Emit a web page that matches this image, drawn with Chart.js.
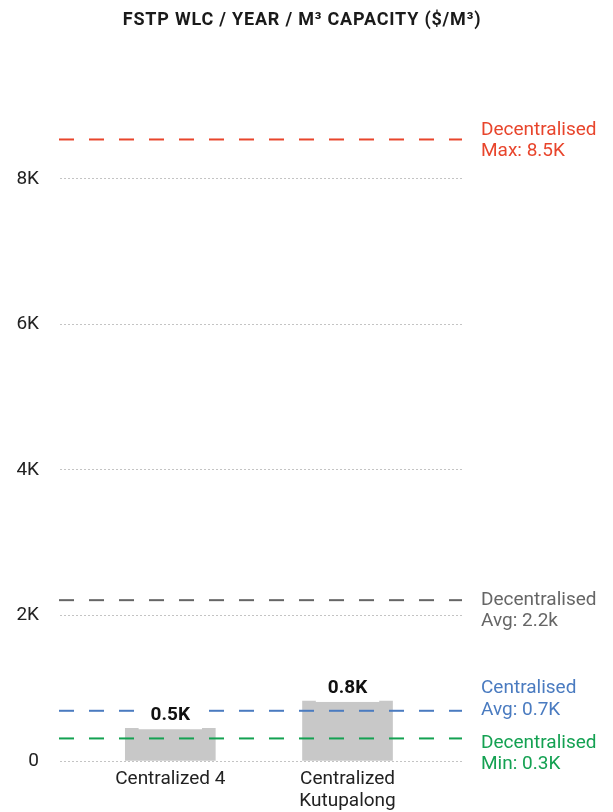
<!DOCTYPE html>
<html>
<head>
<meta charset="utf-8">
<script src="https://cdn.jsdelivr.net/npm/chart.js@4.4.1/dist/chart.umd.min.js"></script>
<style>
  html, body { margin: 0; padding: 0; background: #fff; }
</style>
</head>
<body>
<canvas id="wlcChart" width="613" height="812"></canvas>
<script>
// centralized plants (bars)
const categories = ['Centralized 4', 'Centralized Kutupalong'];
const wlcValues = [450, 825];

// decentralised / centralised reference levels (dashed lines)
const refNames = ['Decentralised Max', 'Decentralised Avg', 'Centralised Avg', 'Decentralised Min'];
const refValues = [8540, 2210, 690, 310];
const refUnits = ['K', 'k', 'K', 'K'];

const yTicks = [0, 2000, 4000, 6000, 8000];

// styling
const refColors = ['#e8452c', '#666666', '#4a7bc0', '#14a152'];
const refLabelShift = [1.5, 10.5, -11.5, 15.5];

const fmtK = (v, unit) => (v / 1000).toFixed(1) + unit;

const wrapLabel = (s) => s.length > 14 ? s.split(' ') : s;

const titlePlugin = {
  id: 'spacedTitle',
  afterDraw(chart) {
    const ctx = chart.ctx;
    ctx.save();
    ctx.font = 'bold 18px Roboto';
    ctx.letterSpacing = '0.8px';
    ctx.fillStyle = '#1a1a1a';
    ctx.textAlign = 'center';
    ctx.textBaseline = 'middle';
    ctx.fillText('FSTP WLC / YEAR / M\u00B3 CAPACITY ($/M\u00B3)', 302, 20);
    ctx.restore();
  }
};

const refLinesPlugin = {
  id: 'refLines',
  afterDatasetsDraw(chart) {
    const { ctx, chartArea: area, scales: { y } } = chart;
    ctx.save();
    refValues.forEach((v, i) => {
      const py = y.getPixelForValue(v);
      ctx.strokeStyle = refColors[i];
      ctx.lineWidth = 2;
      ctx.setLineDash([15, 15]);
      ctx.beginPath();
      ctx.moveTo(area.left - 1, py);
      ctx.lineTo(area.right, py);
      ctx.stroke();

      const words = refNames[i].split(' ');
      const cy = py + refLabelShift[i];
      ctx.setLineDash([]);
      ctx.fillStyle = refColors[i];
      ctx.font = '19px Roboto';
      ctx.textAlign = 'left';
      ctx.textBaseline = 'middle';
      ctx.fillText(words[0], area.right + 19, cy - 10.75);
      ctx.fillText(words[1] + ': ' + fmtK(v, refUnits[i]), area.right + 19, cy + 10.75);
    });
    ctx.restore();
  }
};

const barLabelsPlugin = {
  id: 'barLabels',
  afterDatasetsDraw(chart) {
    const ctx = chart.ctx;
    const meta = chart.getDatasetMeta(0);
    ctx.save();
    ctx.font = 'bold 19px Roboto';
    ctx.textAlign = 'center';
    ctx.textBaseline = 'middle';
    meta.data.forEach((bar, i) => {
      const text = fmtK(wlcValues[i], 'K');
      const w = ctx.measureText(text).width + 24;
      ctx.fillStyle = '#fff';
      ctx.fillRect(bar.x - w / 2, bar.y - 27, w, 28);
      ctx.fillStyle = '#111';
      ctx.fillText(text, bar.x, bar.y - 13);
    });
    ctx.restore();
  }
};

const data = {
  datasets: [{
    label: 'WLC',
    data: categories.map((c, i) => ({ x: i, y: wlcValues[i] })),
    backgroundColor: '#c8c8c8',
    barThickness: 90
  }]
};

const config = {
  type: 'bar',
  data: data,
  options: {
    responsive: false,
    animation: false,
    devicePixelRatio: 1,
    layout: { padding: { top: 106, right: 151, bottom: 0, left: 17 } },
    plugins: {
      legend: { display: false },
      tooltip: { enabled: false }
    },
    scales: {
      x: {
        type: 'linear',
        offset: false,
        min: -0.6225,
        max: 1.646,
        grid: { display: false, offset: false, drawTicks: false },
        border: { display: false },
        afterBuildTicks: (axis) => { axis.ticks = categories.map((c, i) => ({ value: i })); },
        afterFit: (axis) => { axis.paddingLeft = 0; axis.paddingRight = 0; axis.height = 51; },
        ticks: {
          autoSkip: false,
          maxRotation: 0,
          padding: 7,
          color: '#222',
          font: { family: 'Roboto', size: 19, lineHeight: 1.15 },
          callback: (v) => wrapLabel(categories[v])
        }
      },
      y: {
        min: 0,
        max: 9000,
        afterBuildTicks: (axis) => { axis.ticks = yTicks.map(v => ({ value: v })); },
        afterFit: (axis) => { axis.width = 43; },
        grid: { color: '#c4c4c4', lineWidth: 1, drawTicks: false },
        border: { display: false, dash: [2, 2] },
        ticks: {
          padding: 21,
          color: '#222',
          font: { family: 'Roboto', size: 19 },
          callback: (v) => v === 0 ? '0' : (v / 1000) + 'K'
        }
      }
    }
  },
  plugins: [refLinesPlugin, barLabelsPlugin, titlePlugin]
};

const wlcChart = new Chart(document.getElementById('wlcChart'), config);
</script>
</body>
</html>
